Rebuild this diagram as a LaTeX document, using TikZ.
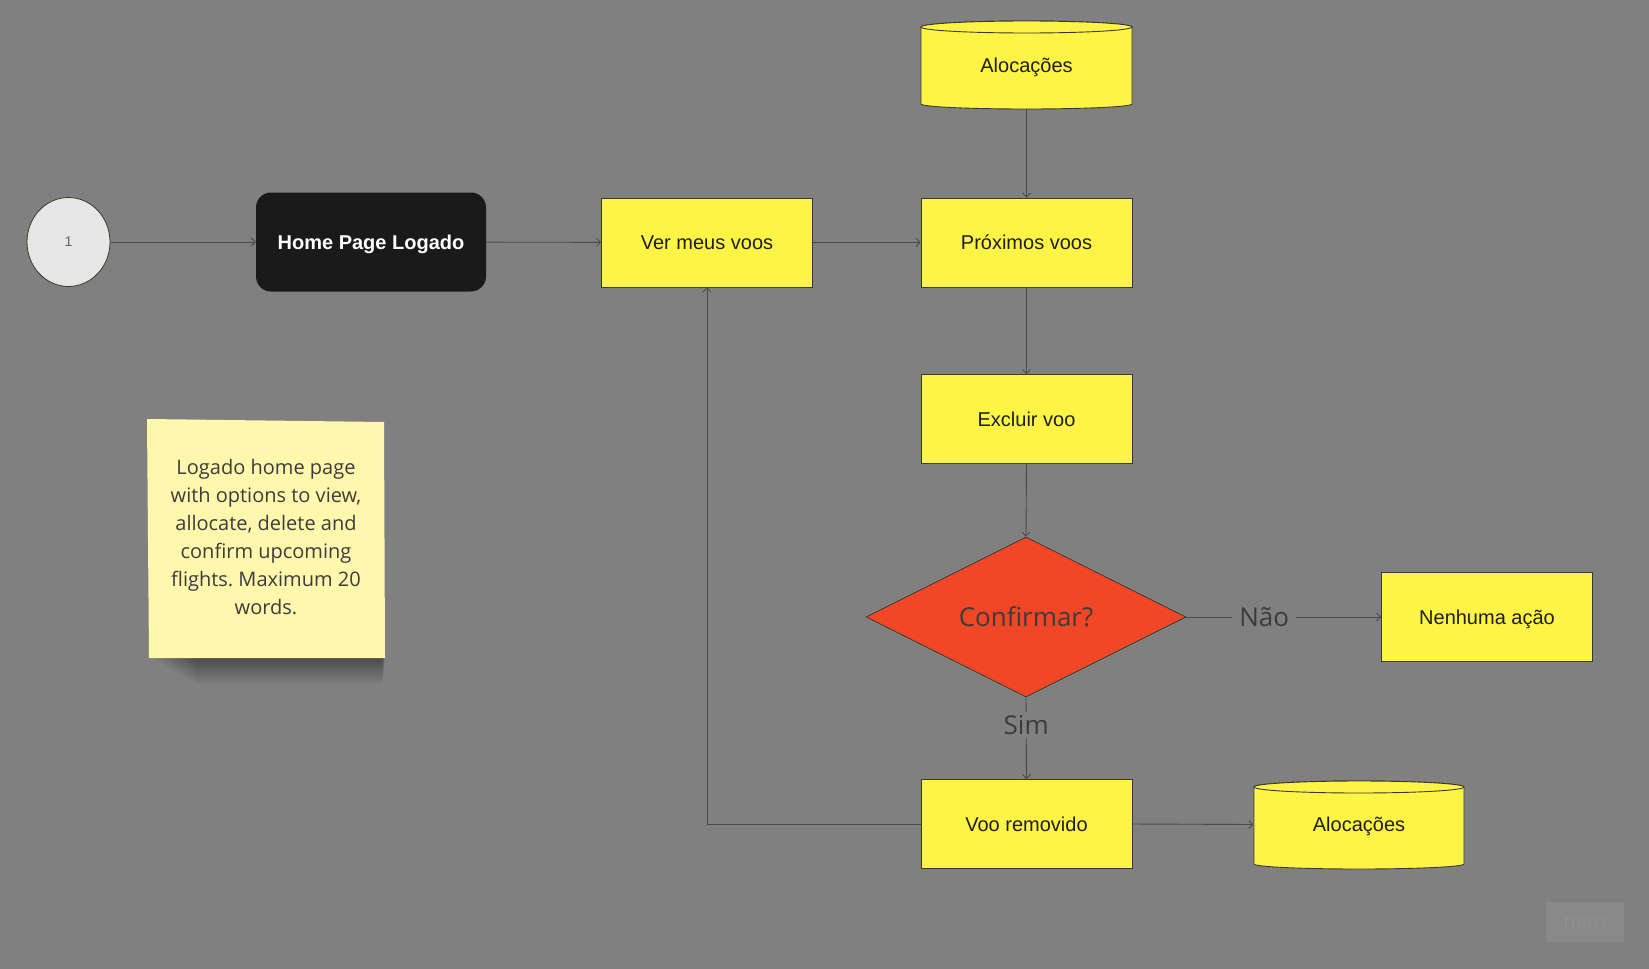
\documentclass[tikz,border=0pt]{standalone}
\usepackage{fontspec}
\setmainfont{Liberation Sans}
\newfontfamily\notefont{Open Sans}
\usetikzlibrary{shapes.geometric,arrows.meta}
\frenchspacing

\definecolor{canvas}{HTML}{808080}
\definecolor{boxyellow}{HTML}{FEF445}
\definecolor{notefill}{HTML}{FFF7AC}
\definecolor{decisionred}{HTML}{F24726}
\definecolor{darkblock}{HTML}{1A1A1A}
\definecolor{startfill}{HTML}{E6E6E6}
\definecolor{outline}{HTML}{3A3A2A}
\definecolor{linkgray}{HTML}{4A4A4A}
\definecolor{inkdark}{HTML}{1E1E1E}
\definecolor{labelgray}{HTML}{3C3C3C}

\tikzset{
  procbox/.style={draw=outline, line width=0.9pt, fill=boxyellow,
    minimum width=211pt, minimum height=89pt, inner sep=0pt,
    text height=14.3pt, text depth=0pt,
    text=inkdark, font=\fontsize{20}{24}\selectfont},
  drumlabel/.style={minimum width=211pt, minimum height=88pt, inner sep=0pt,
    text height=14.3pt, text depth=0pt,
    text=inkdark, font=\fontsize{20}{24}\selectfont},
  drumbody/.style={draw=outline, line width=0.9pt, fill=boxyellow},
  link/.style={draw=linkgray, line width=0.9pt,
    -{Straight Barb[length=4pt,width=8pt,line width=0.8pt]}},
  branchlabel/.style={fill=canvas, inner xsep=7pt, inner ysep=4pt,
    text height=18.6pt, text depth=0pt, text=labelgray,
    font=\notefont\fontsize{26}{30}\selectfont}
}

\begin{document}
\begin{tikzpicture}[x=1pt,y=-1pt]
  % canvas
  \fill[canvas] (0,0) rectangle (1649,969);
  \useasboundingbox (0,0) rectangle (1649,969);

  % soft shadow under the sticky note, built from faint overlapping strips
  \foreach \h in {1,...,26}{
    \fill[black,opacity=0.016,rounded corners=2pt]
      (150+\h*1.8,652) rectangle (385-\h*0.1,658+\h);
  }
  % sticky note paper
  \fill[notefill] (147,419) -- (384,422) -- (385,658) -- (149,658) -- cycle;
  \node[align=center, text=labelgray, font=\notefont\fontsize{20}{28}\selectfont]
    (note) at (266,537)
    {Logado home page\\with options to view,\\allocate, delete and\\confirm upcoming\\flights. Maximum 20\\words.};

  % start circle
  \node[ellipse, draw=outline, line width=0.8pt, fill=startfill,
        minimum width=83pt, minimum height=89pt, inner sep=0pt,
        text=black!60, font=\fontsize{14}{16}\selectfont]
    (start) at (68.5,242) {1};

  % home page block
  \node[rounded corners=15pt, fill=darkblock, minimum width=230pt,
        minimum height=99pt, inner sep=0pt, text=white,
        text height=14.3pt, text depth=0pt,
        font=\fontsize{20}{24}\selectfont\bfseries]
    (home) at (371,242) {Home Page Logado};

  % process boxes
  \node[procbox] (ver) at (707,242.5) {Ver meus voos};
  \node[procbox] (prox) at (1026.5,242.5) {Próximos voos};
  \node[procbox] (excl) at (1026.5,419) {Excluir voo};
  \node[procbox] (nenhuma) at (1487,617) {Nenhuma ação};
  \node[procbox] (removido) at (1026.5,824) {Voo removido};

  % data stores (drums)
  \path[drumbody] (921,27) -- (921,104)
    arc[start angle=180,end angle=0,x radius=105.5,y radius=5]
    -- (1132,27) arc[start angle=0,end angle=-180,x radius=105.5,y radius=6] -- cycle;
  \path[drumbody] (1026.5,27) ellipse[x radius=105.5,y radius=6];
  \node[drumlabel] (alocA) at (1026.5,65) {Alocações};

  \path[drumbody] (1254,787) -- (1254,864)
    arc[start angle=180,end angle=0,x radius=105,y radius=5]
    -- (1464,787) arc[start angle=0,end angle=-180,x radius=105,y radius=6] -- cycle;
  \path[drumbody] (1359,787) ellipse[x radius=105,y radius=6];
  \node[drumlabel] (alocB) at (1359,824.5) {Alocações};

  % decision
  \node[diamond, aspect=2, draw=outline, line width=0.8pt, fill=decisionred,
        minimum width=320pt, minimum height=160pt, inner sep=0pt,
        text height=18.6pt, text depth=0pt,
        text=labelgray, font=\notefont\fontsize{26}{30}\selectfont]
    (conf) at (1026,617) {Confirmar?};

  % connectors
  \draw[link] (start) -- (home);
  \draw[link] (home) -- (ver);
  \draw[link] (ver) -- (prox);
  \draw[link] (alocA.south) -- (prox.north);
  \draw[link] (prox) -- (excl);
  \draw[link] (excl.south) -- (conf.north);
  \draw[link] (conf.east) -- node[branchlabel, pos=0.40] {Não} (nenhuma.west);
  \draw[link] (conf.south) -- node[branchlabel, pos=0.34] {Sim} (removido.north);
  \draw[link] (removido.east) -- (alocB.west);
  \draw[link] (removido.west) -| (ver.south);

  % watermark
  \fill[white,opacity=0.08] (1546,902) rectangle (1624,942);
  \node[text=gray!70!blue!40!white, opacity=0.12,
        font=\fontsize{22}{24}\selectfont] (mark) at (1585,922) {miro};
\end{tikzpicture}
\end{document}
